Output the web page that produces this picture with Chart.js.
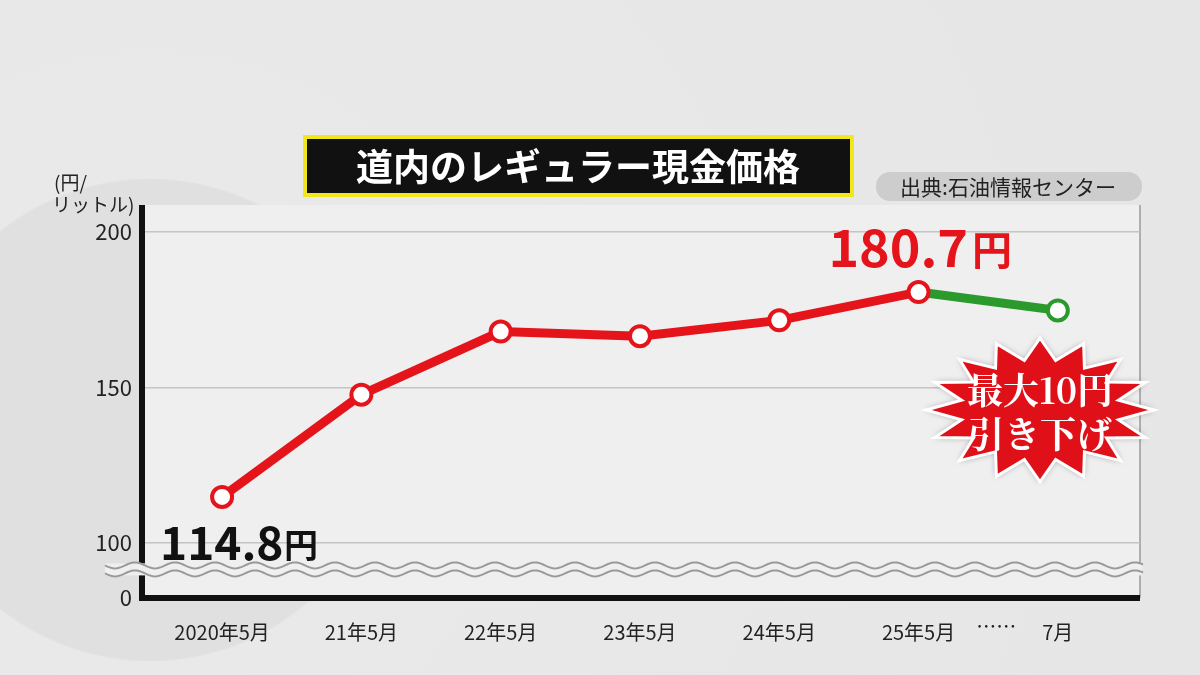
<!DOCTYPE html>
<html><head><meta charset="utf-8">
<script src="https://cdn.jsdelivr.net/npm/chart.js@4"></script>
<style>html,body{margin:0;padding:0;background:#e4e4e4;}#w{width:1200px;height:675px;position:relative;background:radial-gradient(circle at 150px 420px,#e0e0e0 0,#e0e0e0 240px,#e9e9e9 242px,#e6e6e6 100%);}</style>
</head><body><div id="w"><canvas id="c" width="1200" height="675"></canvas></div>
<script>
const categories = ["2020年5月","21年5月","22年5月","23年5月","24年5月","25年5月","7月"];
const prices = [114.8, 147.7, 168.0, 166.5, 171.6, 180.7, 174.8];
const yTickValues = [82.3, 100, 150, 200];
const yTickLabels = ["0", "100", "150", "200"];
const RED = "#e5141b", GREEN = "#2b9a2c";
const F = "'Noto Sans CJK JP','Noto Sans',sans-serif";

const deco = {
  id: 'deco',
  beforeDraw(c) {
    const ctx = c.ctx, a = c.chartArea;
    ctx.save();
    ctx.fillStyle = '#efefef';
    ctx.fillRect(a.left, a.top, a.right - a.left, a.bottom - a.top);
    ctx.strokeStyle = '#9a9a9a'; ctx.lineWidth = 1.5;
    ctx.beginPath(); ctx.moveTo(a.right, a.top); ctx.lineTo(a.right, a.bottom); ctx.stroke();
    ctx.restore();
  },
  afterDatasetsDraw(c) {
    const ctx = c.ctx, a = c.chartArea, x = c.scales.x, y = c.scales.y;
    ctx.save();
    ctx.strokeStyle = '#111'; ctx.lineWidth = 6;
    ctx.beginPath(); ctx.moveTo(a.left, a.top); ctx.lineTo(a.left, a.bottom); ctx.lineTo(a.right, a.bottom); ctx.stroke();
    const yb = y.getPixelForValue(91.5);
    ctx.fillStyle = '#efefef'; ctx.fillRect(105, yb - 6, a.right - 103, 12);
    ctx.strokeStyle = '#9a9a9a'; ctx.lineWidth = 2;
    for (const off of [-4, 4]) {
      ctx.beginPath();
      for (let px = 105; px <= a.right + 4; px += 2) {
        const py = yb + off + 3 * Math.sin((px - 105) / 40 * Math.PI * 2);
        px === 105 ? ctx.moveTo(px, py) : ctx.lineTo(px, py);
      }
      ctx.stroke();
    }
    ctx.fillStyle = '#222'; ctx.font = `20px ${F}`; ctx.textAlign = 'center'; ctx.textBaseline = 'middle';
    ctx.fillText('……', (x.getPixelForValue(5) + x.getPixelForValue(6)) / 2 + 8, a.bottom + 28);
    ctx.font = `19px ${F}`; ctx.textAlign = 'left';
    ctx.fillText('(円/', 54, 183); ctx.fillText('リットル)', 52, 205);
    ctx.font = `bold 52px ${F}`; ctx.fillStyle = RED; ctx.textAlign = 'right'; ctx.textBaseline = 'alphabetic';
    ctx.fillText('180.7', 968, 267);
    ctx.font = `bold 40px ${F}`; ctx.textAlign = 'left'; ctx.fillText('円', 972, 265);
    ctx.fillStyle = '#111'; ctx.font = `bold 46px ${F}`; ctx.fillText('114.8', 160, 560);
    ctx.font = `bold 34px ${F}`; ctx.fillText('円', 284, 558);
    ctx.fillStyle = '#111'; ctx.fillRect(305, 137, 547, 58);
    ctx.strokeStyle = '#f0e81c'; ctx.lineWidth = 4; ctx.strokeRect(305, 137, 547, 58);
    ctx.fillStyle = '#fff'; ctx.font = `bold 37px ${F}`; ctx.textAlign = 'center'; ctx.textBaseline = 'middle';
    ctx.fillText('道内のレギュラー現金価格', 578, 167);
    ctx.fillStyle = '#cdcdcd'; ctx.beginPath(); ctx.roundRect(876, 172, 266, 29, 14); ctx.fill();
    ctx.fillStyle = '#222'; ctx.font = `21px ${F}`; ctx.fillText('出典:石油情報センター', 1008, 187);
    const cx = 1040, cy = 410, n = 16;
    ctx.beginPath();
    for (let i = 0; i < n * 2; i++) {
      const ang = i * Math.PI / n - Math.PI / 2;
      const r = i % 2 ? 80 : 114;
      const px = cx + r * Math.cos(ang), py = cy + r * 0.63 * Math.sin(ang);
      i ? ctx.lineTo(px, py) : ctx.moveTo(px, py);
    }
    ctx.closePath();
    ctx.shadowColor = 'rgba(0,0,0,0.35)'; ctx.shadowBlur = 6;
    ctx.fillStyle = '#e01018'; ctx.fill();
    ctx.shadowBlur = 0; ctx.strokeStyle = '#fff'; ctx.lineWidth = 3; ctx.stroke();
    ctx.fillStyle = '#fff'; ctx.font = `bold 36px 'Noto Serif CJK JP','DejaVu Serif',serif`;
    ctx.fillText('最大10円', cx, cy - 20); ctx.fillText('引き下げ', cx, cy + 24);
    ctx.restore();
  }
};

new Chart(document.getElementById('c'), {
  type: 'line',
  data: { datasets: [{
    data: prices.map((v, i) => ({ x: i, y: v })),
    borderWidth: 9,
    borderColor: RED,
    segment: { borderColor: s => s.p1DataIndex === 6 ? GREEN : RED },
    pointRadius: 10, pointBorderWidth: 4, pointBackgroundColor: '#fff',
    pointBorderColor: prices.map((v, i) => i === 6 ? GREEN : RED),
    tension: 0
  }]},
  options: {
    responsive: false, animation: false,
    layout: { padding: { top: 205, right: 60, left: 0, bottom: 0 } },
    plugins: { legend: { display: false }, tooltip: { enabled: false } },
    scales: {
      x: { type: 'linear', min: -0.575, max: 6.59,
        afterBuildTicks(s) { s.ticks = categories.map((_, i) => ({ value: i })); },
        grid: { display: false }, border: { display: false },
        ticks: { color: '#222', font: { size: 20, family: F }, padding: 14, maxRotation: 0,
          callback: v => categories[v] },
        afterFit(s) { s.height = 77; } },
      y: { min: 82.3, max: 208.7,
        afterBuildTicks(s) { s.ticks = yTickValues.map(v => ({ value: v })); },
        grid: { color: c => c.tick && c.tick.value > 90 ? '#c4c4c4' : 'transparent', lineWidth: 1.5, drawTicks: false },
        border: { display: false },
        ticks: { color: '#222', font: { size: 22, family: F }, padding: 10,
          callback: (v) => yTickLabels[yTickValues.indexOf(v)] },
        afterFit(s) { s.width = 142; } }
    }
  },
  plugins: [deco]
});
</script></body></html>
